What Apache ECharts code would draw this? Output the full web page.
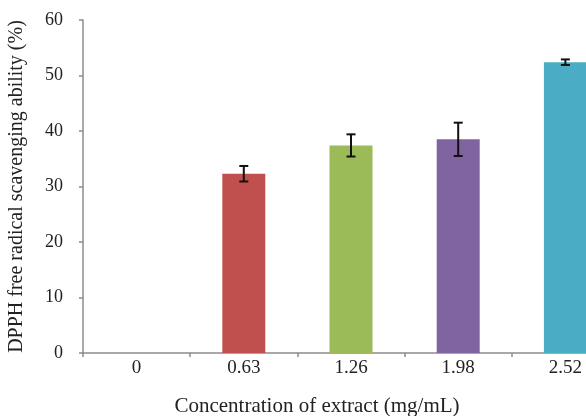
<!DOCTYPE html>
<html>
<head>
<meta charset="utf-8">
<script src="https://cdn.jsdelivr.net/npm/echarts@6/dist/echarts.min.js"></script>
<style>
  html, body { margin: 0; padding: 0; background: #fff; }
  #chart { width: 586px; height: 416px; }
</style>
</head>
<body>
<div id="chart"></div>
<script>
// concentrations (mg/mL)
const categories = ['0', '0.63', '1.26', '1.98', '2.52'];
// DPPH scavenging ability (%)
const scavenging = [0, 32.3, 37.4, 38.5, 52.4];
const errors = [0, 1.4, 2.0, 3.0, 0.5];
const barColors = ['#c0504d', '#c0504d', '#9bbb59', '#8064a2', '#4bacc6'];
const yTicks = [0, 10, 20, 30, 40, 50, 60];

const serif = '"Liberation Serif", "DejaVu Serif", serif';
const axisGray = '#8c8c8c';

const errData = [];
scavenging.forEach((v, i) => {
  if (errors[i] > 0) errData.push([i, v - errors[i], v + errors[i]]);
});

const chart = echarts.init(document.getElementById('chart'));
chart.setOption({
  animation: false,
  grid: { left: 83, top: 20, bottom: 63, width: 536, containLabel: false, outerBoundsMode: 'none' },
  xAxis: {
    type: 'category',
    data: categories,
    name: 'Concentration of extract (mg/mL)',
    nameLocation: 'middle',
    nameGap: 43,
    nameTextStyle: { fontFamily: serif, fontSize: 21, color: '#222', padding: [0, 68, 0, 0] },
    axisLine: { lineStyle: { color: axisGray, width: 1.5 } },
    axisTick: { show: true, length: 4, lineStyle: { color: axisGray, width: 1.5 } },
    axisLabel: { fontFamily: serif, fontSize: 19, color: '#222', margin: 6, interval: 0 },
  },
  yAxis: {
    type: 'value',
    min: yTicks[0],
    max: yTicks[yTicks.length - 1],
    interval: 10,
    name: 'DPPH free radical scavenging ability (%)',
    nameLocation: 'middle',
    nameGap: 56,
    nameTextStyle: { fontFamily: serif, fontSize: 20, color: '#222' },
    axisLine: { show: true, lineStyle: { color: axisGray, width: 1.5 } },
    axisTick: { show: true, length: 4, lineStyle: { color: axisGray, width: 1.5 } },
    splitLine: { show: false },
    axisLabel: { fontFamily: serif, fontSize: 18, color: '#222', margin: 20 },
  },
  series: [
    {
      type: 'bar',
      barWidth: 43,
      data: scavenging.map((v, i) => ({ value: v, itemStyle: { color: barColors[i] } })),
    },
    {
      type: 'custom',
      data: errData,
      z: 10,
      renderItem: function (params, api) {
        const x = api.value(0);
        const lo = api.coord([x, api.value(1)]);
        const hi = api.coord([x, api.value(2)]);
        const half = 4.5;
        const style = { stroke: '#111', lineWidth: 2 };
        return {
          type: 'group',
          children: [
            { type: 'line', shape: { x1: hi[0], y1: hi[1], x2: lo[0], y2: lo[1] }, style: style },
            { type: 'line', shape: { x1: hi[0] - half, y1: hi[1], x2: hi[0] + half, y2: hi[1] }, style: style },
            { type: 'line', shape: { x1: lo[0] - half, y1: lo[1], x2: lo[0] + half, y2: lo[1] }, style: style },
          ],
        };
      },
    },
  ],
});
</script>
</body>
</html>
